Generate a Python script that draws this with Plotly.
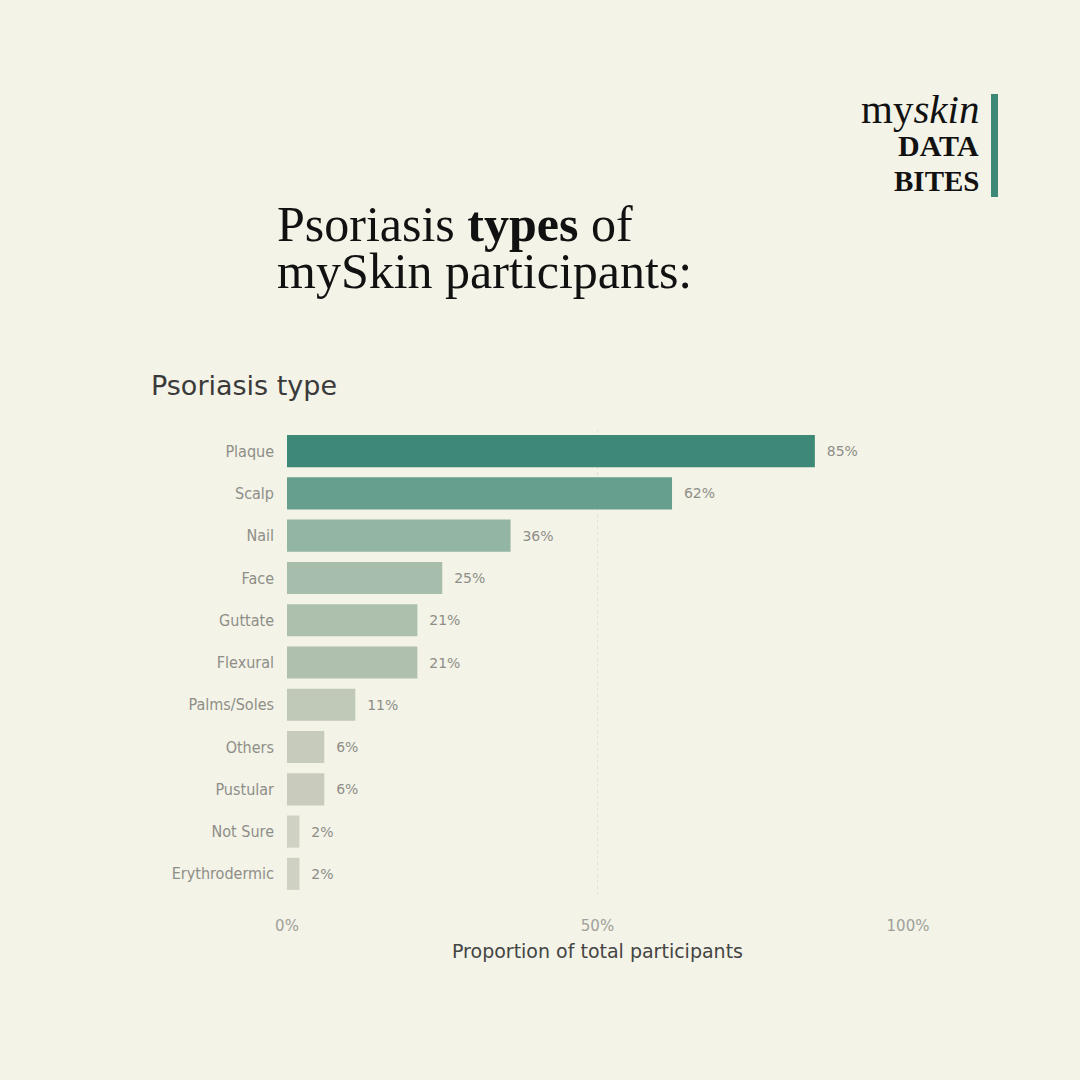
import plotly.graph_objects as go

# data
types = ['Plaque', 'Scalp', 'Nail', 'Face', 'Guttate', 'Flexural',
         'Palms/Soles', 'Others', 'Pustular', 'Not Sure', 'Erythrodermic']
share = [85, 62, 36, 25, 21, 21, 11, 6, 6, 2, 2]
bar_colors = ['#3d8877', '#679f8e', '#93b5a3', '#a6bdab', '#adc0ae', '#afc1ae',
              '#c0c8b8', '#c7cbbb', '#c9ccbc', '#cfd1c2', '#cfd1c2']
x_ticks = [0, 50, 100]
x_ticklabels = ['0%', '50%', '100%']

bg = '#f3f3e7'
serif = 'Liberation Serif'
sans = 'DejaVu Sans'
sans_c = 'DejaVu Sans Condensed, DejaVu Sans'

# plot area in pixels
L, R, T, B = 287, 908, 430, 895
W = R - L
H = B - T


def px(x):
    return (x - L) / W


def py(y):
    return (B - y) / H


fig = go.Figure()
fig.add_trace(go.Bar(
    x=share, y=types, orientation='h',
    marker=dict(color=bar_colors, line=dict(width=0)),
    text=[f'\u00a0\u00a0{v}%' for v in share], textposition='outside',
    textfont=dict(family=sans, size=14, color='#8e8e88'),
    cliponaxis=False, hoverinfo='skip'))

fig.update_layout(
    width=1080, height=1080,
    paper_bgcolor=bg, plot_bgcolor=bg,
    margin=dict(l=L, r=1080 - R, t=T, b=1080 - B),
    bargap=0.24, showlegend=False,
    xaxis=dict(range=[0, 100], tickvals=x_ticks, ticktext=x_ticklabels,
               showgrid=True, gridcolor='#e4e4d6', griddash='dot', gridwidth=1,
               zeroline=False, showline=False, ticks='', ticklabelstandoff=20,
               tickfont=dict(family=sans, size=15, color='#a0a09a')),
    yaxis=dict(autorange='reversed', showgrid=False, zeroline=False, ticks='',
               ticklabelstandoff=12,
               tickfont=dict(family=sans_c, size=16, color='#8e8e88')),
)

ann = []
# main title (two lines, tight leading as in the original)
ann.append(dict(text='Psoriasis <b>types</b> of', x=px(275), y=py(224),
                xanchor='left', yanchor='middle',
                font=dict(family=serif, size=50, color='#111111')))
ann.append(dict(text='mySkin participants:', x=px(275), y=py(271),
                xanchor='left', yanchor='middle',
                font=dict(family=serif, size=50, color='#111111')))
# chart heading
ann.append(dict(text='Psoriasis type', x=px(149), y=py(386),
                xanchor='left', yanchor='middle',
                font=dict(family=sans, size=27, color='#3a3a3a')))
# x axis title
ann.append(dict(text='Proportion of total participants', x=px(597), y=py(951),
                xanchor='center', yanchor='middle',
                font=dict(family=sans, size=19, color='#444444')))
# logo
ann.append(dict(text='my<i>skin</i>', x=px(981), y=py(109),
                xanchor='right', yanchor='middle',
                font=dict(family=serif, size=41, color='#111111')))
ann.append(dict(text='<b>DATA</b>', x=px(981), y=py(146),
                xanchor='right', yanchor='middle',
                font=dict(family=serif, size=30, color='#111111')))
ann.append(dict(text='<b>BITES</b>', x=px(981), y=py(181),
                xanchor='right', yanchor='middle',
                font=dict(family=serif, size=29, color='#111111')))
for a in ann:
    a.update(xref='paper', yref='paper', showarrow=False)
fig.update_layout(annotations=ann)

fig.add_shape(type='rect', xref='paper', yref='paper',
              x0=px(991), x1=px(998), y0=py(94), y1=py(197),
              fillcolor='#3d8877', line=dict(width=0), layer='above')

fig.write_html('out.html', config={'displayModeBar': False},
               post_script="document.body.style.margin='0';")
